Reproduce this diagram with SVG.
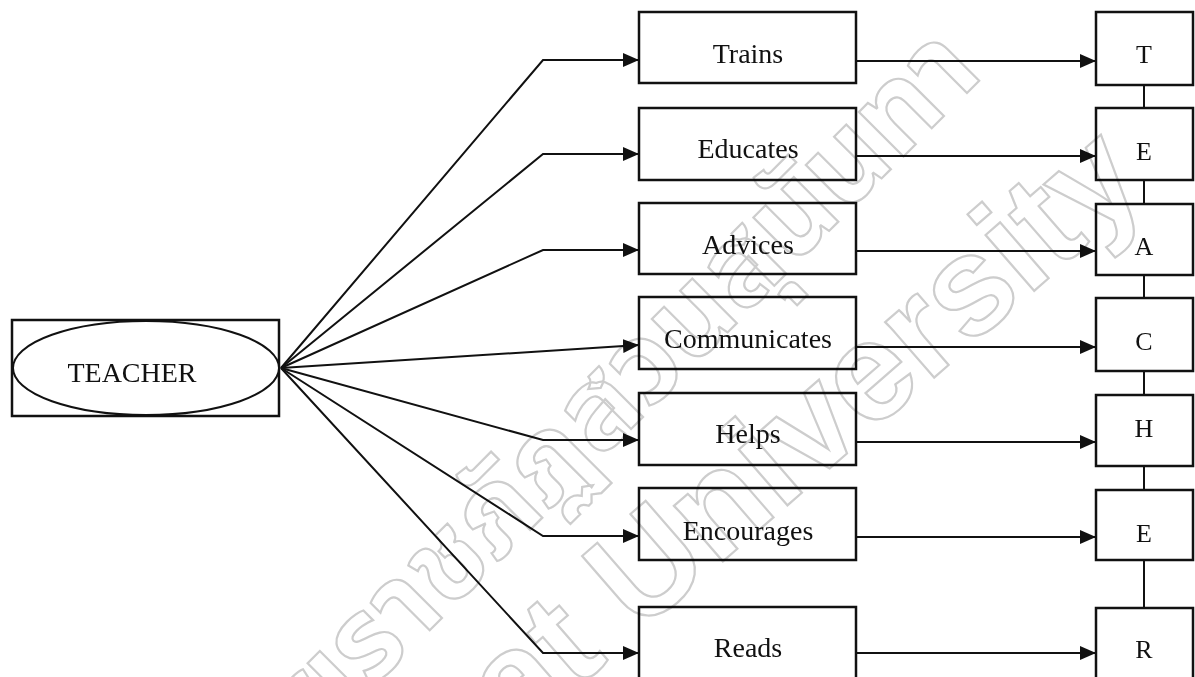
<svg xmlns="http://www.w3.org/2000/svg" width="1195" height="677" viewBox="0 0 1195 677">
<defs>
<style>
.box{fill:#fff;stroke:#111;stroke-width:2.5}
.ln{fill:none;stroke:#111;stroke-width:2}
.lbl{font-family:"Liberation Serif","Times New Roman",serif;font-size:28px;fill:#111;text-anchor:middle}
.let{font-family:"Liberation Serif","Times New Roman",serif;font-size:26px;fill:#111;text-anchor:middle}
.wm{fill:none;stroke:#cdcdcd;stroke-width:2.2;font-weight:bold}
</style>
<marker id="ah" markerUnits="userSpaceOnUse" markerWidth="16" markerHeight="14" refX="16" refY="7" orient="auto">
<path d="M0,0 L16,7 L0,14 z" fill="#111"/>
</marker>
</defs>
<rect width="1195" height="677" fill="#fff"/>
<g id="connectors">
<path class="ln" marker-end="url(#ah)" d="M281,368 L543,60 L639,60"/>
<path class="ln" marker-end="url(#ah)" d="M281,368 L543,154 L639,154"/>
<path class="ln" marker-end="url(#ah)" d="M281,368 L543,250 L639,250"/>
<path class="ln" marker-end="url(#ah)" d="M281,368 L639,345"/>
<path class="ln" marker-end="url(#ah)" d="M281,368 L543,440 L639,440"/>
<path class="ln" marker-end="url(#ah)" d="M281,368 L543,536 L639,536"/>
<path class="ln" marker-end="url(#ah)" d="M281,368 L543,653 L639,653"/>
<path class="ln" marker-end="url(#ah)" d="M856,61 L1096,61"/>
<path class="ln" marker-end="url(#ah)" d="M856,156 L1096,156"/>
<path class="ln" marker-end="url(#ah)" d="M856,251 L1096,251"/>
<path class="ln" marker-end="url(#ah)" d="M856,347 L1096,347"/>
<path class="ln" marker-end="url(#ah)" d="M856,442 L1096,442"/>
<path class="ln" marker-end="url(#ah)" d="M856,537 L1096,537"/>
<path class="ln" marker-end="url(#ah)" d="M856,653 L1096,653"/>
<path class="ln" stroke-width="2.5" d="M1144,85 V108 M1144,180 V204 M1144,275 V298 M1144,371 V395 M1144,466 V490 M1144,560 V608"/>
</g>
<g id="teacher">
<rect class="box" x="12" y="320" width="267" height="96" stroke-width="2"/>
<ellipse cx="146" cy="368" rx="133" ry="47" fill="#fff" stroke="#111" stroke-width="2"/>
<text class="lbl" x="132" y="382">TEACHER</text>
</g>
<g id="trains"><rect class="box" x="639" y="12" width="217" height="71"/><text class="lbl" x="748" y="63">Trains</text></g>
<g id="educates"><rect class="box" x="639" y="108" width="217" height="72"/><text class="lbl" x="748" y="158">Educates</text></g>
<g id="advices"><rect class="box" x="639" y="203" width="217" height="71"/><text class="lbl" x="748" y="254">Advices</text></g>
<g id="communicates"><rect class="box" x="639" y="297" width="217" height="72"/><text class="lbl" x="748" y="348">Communicates</text></g>
<g id="helps"><rect class="box" x="639" y="393" width="217" height="72"/><text class="lbl" x="748" y="443">Helps</text></g>
<g id="encourages"><rect class="box" x="639" y="488" width="217" height="72"/><text class="lbl" x="748" y="540">Encourages</text></g>
<g id="reads"><rect class="box" x="639" y="607" width="217" height="73"/><text class="lbl" x="748" y="657">Reads</text></g>
<g id="letter-t"><rect class="box" x="1096" y="12" width="97" height="73"/><text class="let" x="1144" y="63">T</text></g>
<g id="letter-e1"><rect class="box" x="1096" y="108" width="97" height="72"/><text class="let" x="1144" y="160">E</text></g>
<g id="letter-a"><rect class="box" x="1096" y="204" width="97" height="71"/><text class="let" x="1144" y="255">A</text></g>
<g id="letter-c"><rect class="box" x="1096" y="298" width="97" height="73"/><text class="let" x="1144" y="350">C</text></g>
<g id="letter-h"><rect class="box" x="1096" y="395" width="97" height="71"/><text class="let" x="1144" y="437">H</text></g>
<g id="letter-e2"><rect class="box" x="1096" y="490" width="97" height="70"/><text class="let" x="1144" y="542">E</text></g>
<g id="letter-r"><rect class="box" x="1096" y="608" width="97" height="72"/><text class="let" x="1144" y="658">R</text></g>
<g id="watermark" style="mix-blend-mode:multiply">
<text class="wm" x="0" y="0" font-family="'Noto Sans Thai','Noto Sans','DejaVu Sans',sans-serif" font-size="115" text-anchor="end" transform="translate(985,75) rotate(-45)">มหาวิทยาลัยราชภัฏสวนสุนันทา</text>
<text class="wm" x="0" y="0" font-family="'Liberation Sans',Arial,sans-serif" font-size="140" text-anchor="end" transform="translate(1150,190) rotate(-41)">Rajabhat University</text>
</g>
</svg>
